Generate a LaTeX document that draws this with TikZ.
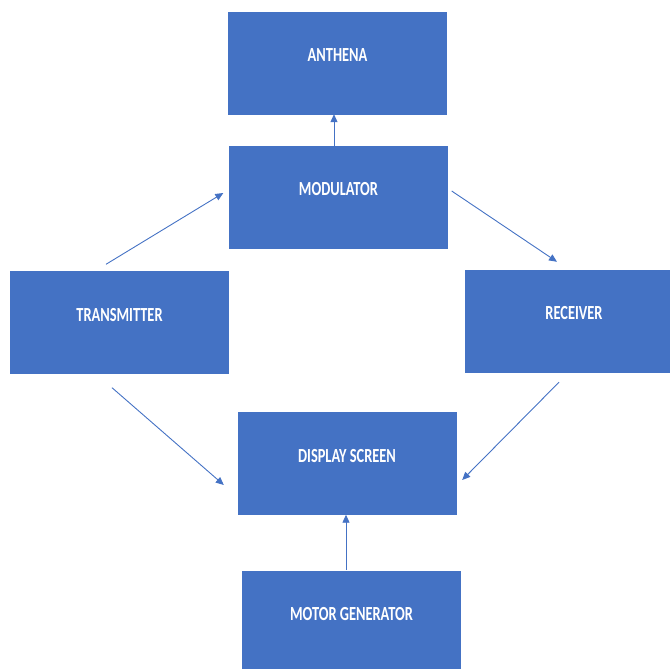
\documentclass[tikz,border=0pt]{standalone}
\usepackage{fontspec}
\newfontfamily\boxfont[FakeStretch=0.72]{Carlito}
\usetikzlibrary{arrows.meta}
\definecolor{boxblue}{HTML}{4472C4}

\begin{document}
\begin{tikzpicture}[x=1pt,y=-1pt,
  blk/.style={fill=boxblue,draw=boxblue,minimum width=218pt,minimum height=102pt,
    inner sep=0pt,text=white,font=\boxfont\fontsize{20}{24}\selectfont\bfseries,
    text height=13pt,text depth=16pt},
  link/.style={draw=boxblue,line width=0.9pt,-{Triangle[length=8pt,width=7pt]}}]
  \useasboundingbox (0,0) rectangle (670,669);
  \clip (0,0) rectangle (670,669);
  % blocks
  \node[blk] (anth)  at (337.5,63)  {ANTHENA};
  \node[blk] (mod)   at (338.5,197) {MODULATOR};
  \node[blk] (trans) at (119.5,322.5) {TRANSMITTER};
  \node[blk] (rec)   at (574,321)   {RECEIVER};
  \node[blk] (disp)  at (347,463.5) {DISPLAY SCREEN};
  \node[blk] (motor) at (351.5,622) {MOTOR GENERATOR};
  % links
  \draw[link] ([xshift=-4.5pt]mod.north) -- ([xshift=-3.5pt]anth.south);
  \draw[link] ([xshift=-13.5pt,yshift=7pt]trans.north) -- ([xshift=-6pt,yshift=4pt]mod.west);
  \draw[link] ([xshift=4pt,yshift=6pt]mod.east) -- ([xshift=-17pt,yshift=8pt]rec.north);
  \draw[link] ([xshift=-7.5pt,yshift=-14pt]trans.south) -- ([xshift=-14pt,yshift=-21.5pt]disp.west);
  \draw[link] ([xshift=-15pt,yshift=-10pt]rec.south) -- ([xshift=6pt,yshift=-16.5pt]disp.east);
  \draw[link] ([xshift=-5.5pt,yshift=1pt]motor.north) -- ([xshift=-1pt]disp.south);
\end{tikzpicture}
\end{document}
